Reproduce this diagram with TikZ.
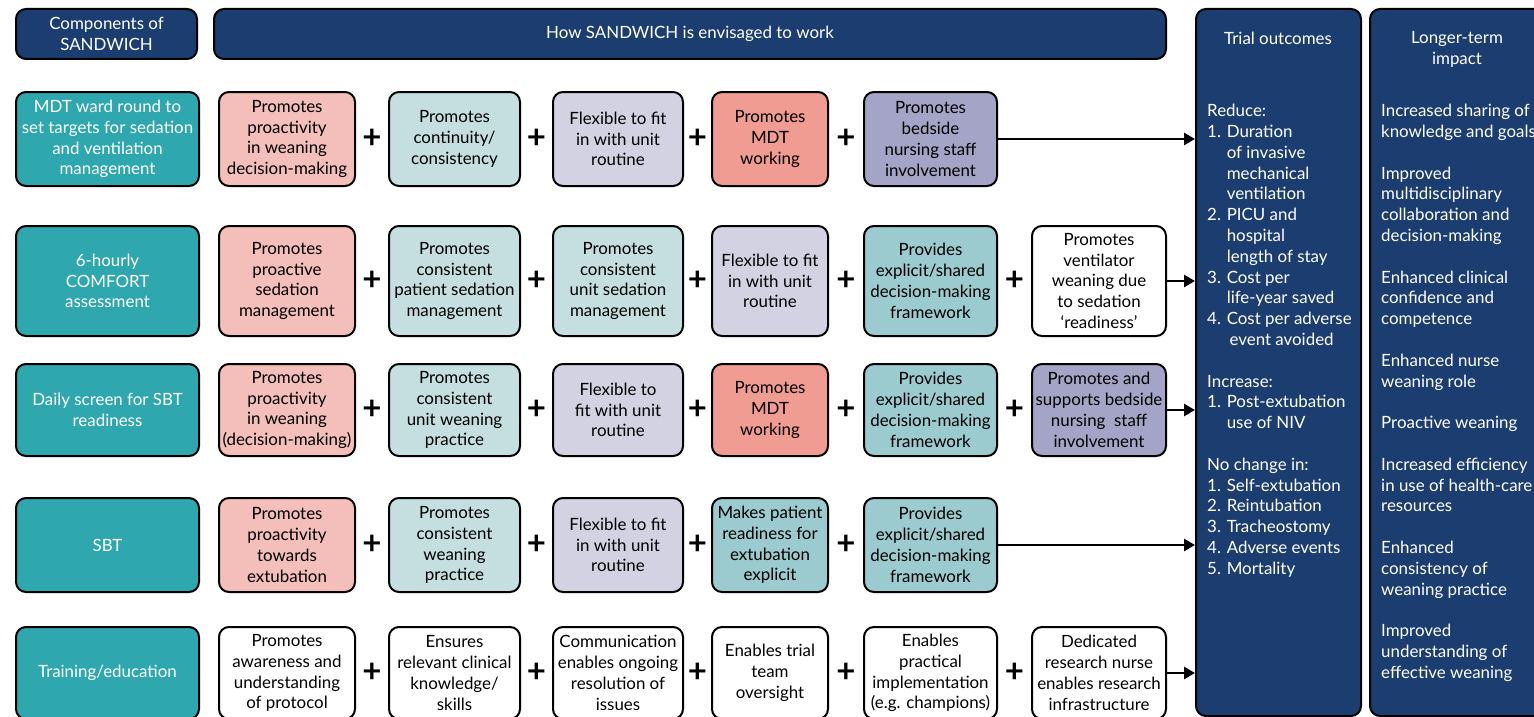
\documentclass[tikz,border=0pt]{standalone}
\usepackage{fontspec}
\setmainfont{Lato}
\usepackage{xcolor}
\usetikzlibrary{arrows.meta,calc,positioning}
\definecolor{navy}{RGB}{27,61,112}
\definecolor{compteal}{RGB}{46,168,174}
\definecolor{pinkbox}{RGB}{244,190,186}
\definecolor{paleblue}{RGB}{197,223,224}
\definecolor{lavender}{RGB}{211,210,227}
\definecolor{salmon}{RGB}{240,156,146}
\definecolor{purplegrey}{RGB}{164,164,198}
\definecolor{tealmid}{RGB}{155,203,206}
\tikzset{%
  box/.style={draw=black, line width=2pt, rounded corners=10pt, align=center, inner sep=0pt},
  comp/.style={box, fill=compteal, text=white, minimum width=183pt},
  head/.style={box, fill=navy, text=white},
  col one/.style={minimum width=136pt},
  col two/.style={minimum width=131pt},
  col three/.style={minimum width=130pt},
  col four/.style={minimum width=116pt},
  col five/.style={minimum width=133pt},
  col six/.style={minimum width=134pt},
  plus/.style={font=\fontsize{33}{33}\bfseries\selectfont, inner sep=0pt},
  feed/.style={line width=2.7pt, -{Triangle[length=11pt,width=12pt]}},
  listing/.style={anchor=north west, align=left, inner sep=0pt, text=white}
}

\begin{document}
\begin{tikzpicture}[x=1pt, y=-1pt, font=\fontsize{16.9pt}{20.8pt}\selectfont]
    \clip (0,0) rectangle (1534,717);

    % headers and outcome columns
    \node[head, minimum width=181pt, minimum height=50pt] (comphead) at (106.5,34) {Components of\\SANDWICH};
    \node[head, minimum width=952pt, minimum height=50pt] (howhead) at (690,34) {How SANDWICH is envisaged to work};
    \node[head, minimum width=165pt, minimum height=707pt] (trial) at (1278.5,362.5) {};
    \node[head, minimum width=175pt, minimum height=707pt] (impact) at (1457.5,362.5) {};
    \node[text=white, inner sep=0pt] (trialtitle) at (1278,38) {Trial outcomes};
    \node[text=white, inner sep=0pt, align=center] (impacttitle) at (1457,49.5) {Longer-term\\impact};

    \node[listing] (trialtext) at (1207,104) {Reduce:\\
      1. Duration\\ \phantom{1. }of invasive\\ \phantom{1. }mechanical\\ \phantom{1. }ventilation\\
      2. PICU and\\ \phantom{2. }hospital\\ \phantom{2. }length of stay\\
      3. Cost per\\ \phantom{3. }life-year saved\\
      4. Cost per adverse\\ \phantom{4. }\,event avoided\\[20.8pt]
      Increase:\\
      1. Post-extubation\\ \phantom{1. }use of NIV\\[20.8pt]
      No change in:\\
      1. Self-extubation\\ 2. Reintubation\\ 3. Tracheostomy\\ 4. Adverse events\\ 5. Mortality};

    \node[listing] (impacttext) at (1381,104) {Increased sharing of\\ knowledge and goals\\[20.8pt]
      Improved\\ multidisciplinary\\ collaboration and\\ decision-making\\[20.8pt]
      Enhanced clinical\\ confidence and\\ competence\\[20.8pt]
      Enhanced nurse\\ weaning role\\[20.8pt]
      Proactive weaning\\[20.8pt]
      Increased efficiency\\ in use of health-care\\ resources\\[20.8pt]
      Enhanced\\ consistency of\\ weaning practice\\[20.8pt]
      Improved\\ understanding of\\ effective weaning};

    % MDT ward round
    \begin{scope}[box/.append style={minimum height=94pt}]
      \node[comp] (mdt) at (107.5,139) {MDT ward round to\\set targets for sedation\\and ventilation\\management};
      \node[box, fill=pinkbox, col one] (mdt1) at (287,139) {Promotes\\proactivity\\in weaning\\decision-making};
      \node[box, fill=paleblue, col two] (mdt2) at (454.5,139) {Promotes\\continuity/\\consistency};
      \node[box, fill=lavender, col three] (mdt3) at (618,139) {Flexible to fit\\in with unit\\routine};
      \node[box, fill=salmon, col four] (mdt4) at (770,139) {Promotes\\MDT\\working};
      \node[box, fill=purplegrey, col five] (mdt5) at (930.5,139) {Promotes\\bedside\\nursing staff\\involvement};
    \end{scope}

    % COMFORT assessment
    \begin{scope}[box/.append style={minimum height=110pt}]
      \node[comp] (comfort) at (107.5,281) {6-hourly\\COMFORT\\assessment};
      \node[box, fill=pinkbox, col one] (comfort1) at (287,281) {Promotes\\proactive\\sedation\\management};
      \node[box, fill=paleblue, col two] (comfort2) at (454.5,281) {Promotes\\consistent\\patient sedation\\management};
      \node[box, fill=paleblue, col three] (comfort3) at (618,281) {Promotes\\consistent\\unit sedation\\management};
      \node[box, fill=lavender, col four] (comfort4) at (770,281) {Flexible to fit\\in with unit\\routine};
      \node[box, fill=tealmid, col five] (comfort5) at (930.5,281) {Provides\\explicit/shared\\decision-making\\framework};
      \node[box, fill=white, col six] (comfort6) at (1099,281) {Promotes\\ventilator\\weaning due\\to sedation\\‘readiness’};
    \end{scope}

    % daily screen
    \begin{scope}[box/.append style={minimum height=92pt}]
      \node[comp] (screen) at (107.5,410) {Daily screen for SBT\\readiness};
      \node[box, fill=pinkbox, col one] (screen1) at (287,410) {Promotes\\proactivity\\in weaning\\(decision-making)};
      \node[box, fill=paleblue, col two] (screen2) at (454.5,410) {Promotes\\consistent\\unit weaning\\practice};
      \node[box, fill=lavender, col three] (screen3) at (618,410) {Flexible to\\fit with unit\\routine};
      \node[box, fill=salmon, col four] (screen4) at (770,410) {Promotes\\MDT\\working};
      \node[box, fill=tealmid, col five] (screen5) at (930.5,410) {Provides\\explicit/shared\\decision-making\\framework};
      \node[box, fill=purplegrey, col six] (screen6) at (1099,410) {Promotes and\\supports bedside\\nursing\ \ staff\\involvement};
    \end{scope}

    % SBT
    \begin{scope}[box/.append style={minimum height=94pt}]
      \node[comp] (sbt) at (107.5,545) {SBT};
      \node[box, fill=pinkbox, col one] (sbt1) at (287,545) {Promotes\\proactivity\\towards\\extubation};
      \node[box, fill=paleblue, col two] (sbt2) at (454.5,545) {Promotes\\consistent\\weaning\\practice};
      \node[box, fill=lavender, col three] (sbt3) at (618,545) {Flexible to fit\\in with unit\\routine};
      \node[box, fill=tealmid, col four] (sbt4) at (770,545) {Makes patient\\readiness for\\extubation\\explicit};
      \node[box, fill=tealmid, col five] (sbt5) at (930.5,545) {Provides\\explicit/shared\\decision-making\\framework};
    \end{scope}

    % training
    \begin{scope}[box/.append style={minimum height=92pt}]
      \node[comp] (train) at (107.5,673) {Training/education};
      \node[box, fill=white, col one] (train1) at (287,673) {Promotes\\awareness and\\understanding\\of protocol};
      \node[box, fill=white, col two] (train2) at (454.5,673) {Ensures\\relevant clinical\\knowledge/\\skills};
      \node[box, fill=white, col three] (train3) at (618,673) {Communication\\enables ongoing\\resolution of\\issues};
      \node[box, fill=white, col four] (train4) at (770,673) {Enables trial\\team\\oversight};
      \node[box, fill=white, col five] (train5) at (930.5,673) {Enables\\practical\\implementation\\(e.g. champions)};
      \node[box, fill=white, col six] (train6) at (1099,673) {Dedicated\\research nurse\\enables research\\infrastructure};
    \end{scope}

    % plus signs
    \foreach \a/\b in {mdt1/mdt2, mdt2/mdt3, mdt3/mdt4, mdt4/mdt5,
                       comfort1/comfort2, comfort2/comfort3, comfort3/comfort4, comfort4/comfort5, comfort5/comfort6,
                       screen1/screen2, screen2/screen3, screen3/screen4, screen4/screen5, screen5/screen6,
                       sbt1/sbt2, sbt2/sbt3, sbt3/sbt4, sbt4/sbt5,
                       train1/train2, train2/train3, train3/train4, train4/train5, train5/train6}
      \node[plus] (plus-\a) at ($(\a.east)!0.5!(\b.west)$) {+};

    % arrows into the outcomes
    \foreach \s in {mdt5, comfort6, screen6, sbt5, train6}
      \draw[feed] (\s.east) -- (\s.east -| trial.west);

\end{tikzpicture}
\end{document}
